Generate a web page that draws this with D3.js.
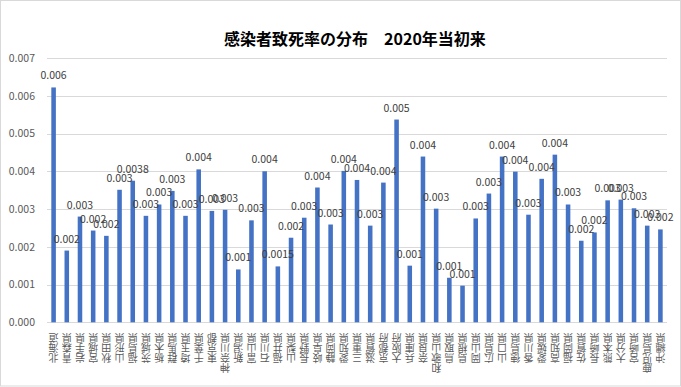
<!DOCTYPE html>
<html>
<head>
<meta charset="utf-8">
<script src="https://cdn.jsdelivr.net/npm/d3@7"></script>
<style>
  body { margin: 0; background: #fff; }
  #chart { width: 681px; height: 387px; }
</style>
</head>
<body>
<div id="chart"></div>
<script>
// Chart data
const chartTitle = "感染者致死率の分布　2020年当初来";

const prefectures = [
    "北海道", "青森県", "岩手県", "宮城県", "秋田県", "山形県", "福島県", "茨城県",
    "栃木県", "群馬県", "埼玉県", "千葉県", "東京都", "神奈川県", "新潟県", "富山県",
    "石川県", "福井県", "山梨県", "長野県", "岐阜県", "静岡県", "愛知県", "三重県",
    "滋賀県", "京都府", "大阪府", "兵庫県", "奈良県", "和歌山県", "鳥取県", "島根県",
    "岡山県", "広島県", "山口県", "徳島県", "香川県", "愛媛県", "高知県", "福岡県",
    "佐賀県", "長崎県", "熊本県", "大分県", "宮崎県", "鹿児島県", "沖縄県"
];

const deathRates = [
    0.00622, 0.00190, 0.00280, 0.00243, 0.00229, 0.00351, 0.00375, 0.00282,
    0.00312, 0.00348, 0.00282, 0.00405, 0.00295, 0.00298, 0.00140, 0.00270,
    0.00400, 0.00148, 0.00224, 0.00277, 0.00357, 0.00259, 0.00401, 0.00377,
    0.00256, 0.00370, 0.00537, 0.00150, 0.00439, 0.00301, 0.00118, 0.00097,
    0.00275, 0.00341, 0.00439, 0.00399, 0.00285, 0.00380, 0.00444, 0.00312,
    0.00216, 0.00238, 0.00323, 0.00325, 0.00302, 0.00256, 0.00246
];

// data labels as shown on the original chart
const valueLabels = [
    "0.006", "0.002", "0.003", "0.002", "0.002", "0.003", "0.0038", "0.003",
    "0.003", "0.003", "0.003", "0.004", "0.003", "0.003", "0.001", "0.003",
    "0.004", "0.0015", "0.002", "0.003", "0.004", "0.003", "0.004", "0.004",
    "0.003", "0.004", "0.005", "0.001", "0.004", "0.003", "0.001", "0.001",
    "0.003", "0.003", "0.004", "0.004", "0.003", "0.004", "0.004", "0.003",
    "0.002", "0.002", "0.003", "0.003", "0.003", "0.003", "0.002"
];

const yTicks = [0, 0.001, 0.002, 0.003, 0.004, 0.005, 0.006, 0.007];

function createChart(containerId) {
    const W = 681, H = 387;
    const plot = { left: 47, right: 667, top: 58, bottom: 322.3 };
    const font = "'Noto Sans CJK JP', 'Noto Sans', sans-serif";

    const svg = d3.select(`#${containerId}`).append("svg")
        .attr("width", W)
        .attr("height", H)
        .style("font-family", font);

    // outer chart border
    svg.append("rect")
        .attr("x", 0.5).attr("y", 0.5)
        .attr("width", W - 1).attr("height", H - 1.5)
        .attr("fill", "#fff").attr("stroke", "#d9d9d9");

    const xScale = d3.scaleBand().domain(prefectures).range([plot.left, plot.right]).padding(0);
    const yScale = d3.scaleLinear().domain([0, 0.007]).range([plot.bottom, plot.top]);
    const barW = xScale.bandwidth() * 0.345;

    // gridlines
    svg.append("g").selectAll("line").data(yTicks).enter().append("line")
        .attr("x1", plot.left).attr("x2", plot.right)
        .attr("y1", d => Math.round(yScale(d)) + 0.5)
        .attr("y2", d => Math.round(yScale(d)) + 0.5)
        .attr("stroke", "#d9d9d9").attr("stroke-width", 1);

    // y axis labels
    const yAxis = d3.axisLeft(yScale).tickValues(yTicks).tickFormat(d3.format(".3f")).tickSize(0).tickPadding(12);
    const yg = svg.append("g").attr("transform", `translate(${plot.left},0)`).call(yAxis);
    yg.select(".domain").remove();
    yg.selectAll("text").attr("fill", "#595959").style("font-size", "10.5px").style("font-family", font);

    // bars
    svg.selectAll(".bar").data(deathRates).enter().append("rect")
        .attr("class", "bar")
        .attr("x", (d, i) => xScale(prefectures[i]) + (xScale.bandwidth() - barW) / 2)
        .attr("y", d => yScale(d))
        .attr("width", barW)
        .attr("height", d => yScale(0) - yScale(d))
        .attr("fill", "#4472c4");

    // value labels (placed like the original, overlaps included)
    svg.selectAll(".vlabel").data(deathRates).enter().append("text")
        .attr("class", "vlabel")
        .attr("x", (d, i) => xScale(prefectures[i]) + xScale.bandwidth() / 2)
        .attr("y", d => yScale(d) - 8)
        .attr("text-anchor", "middle")
        .attr("fill", "#404040")
        .style("font-size", "10.5px")
        .text((d, i) => valueLabels[i]);

    // category labels: stacked characters, rotated 180 degrees
    const xg = svg.append("g");
    prefectures.forEach(name => {
        const cx = xScale(name) + xScale.bandwidth() / 2;
        const chars = Array.from(name).reverse();
        chars.forEach((c, j) => {
            const cy = 338 + j * 10.3;
            xg.append("text")
                .attr("x", cx).attr("y", cy)
                .attr("text-anchor", "middle")
                .attr("dominant-baseline", "central")
                .attr("transform", `rotate(180,${cx},${cy})`)
                .attr("fill", "#595959")
                .style("font-size", "10px")
                .text(c);
        });
    });

    // title
    svg.append("text")
        .attr("x", (plot.left + plot.right) / 2 - 2)
        .attr("y", 45)
        .attr("text-anchor", "middle")
        .attr("fill", "#000")
        .style("font-size", "16px")
        .style("font-weight", "bold")
        .text(chartTitle);
}

createChart("chart");
</script>
</body>
</html>
